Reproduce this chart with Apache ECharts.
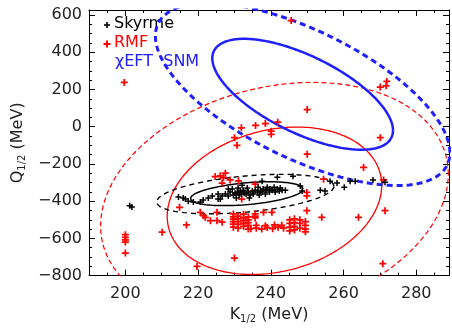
<!DOCTYPE html>
<html><head><meta charset="utf-8">
<script src="https://cdn.jsdelivr.net/npm/echarts@6/dist/echarts.min.js"></script>
<style>html,body{margin:0;padding:0;background:#fff}#c{width:452px;height:329px}</style>
</head><body><div id="c"></div>
<script>
const xTicks = [200, 220, 240, 260, 280];
const yTicks = [-800, -600, -400, -200, 0, 200, 400, 600];

const skyrme = [
[201.2,-425],[201.8,-432],
[214.6,-378],[215.9,-383],[216.5,-389],[217.3,-400],[218.7,-405],[220.6,-405],[221.4,-394],[222.8,-383],[223.9,-373],[225.5,-362],[225.5,-389],[226.1,-389],[226.6,-373],[227.5,-362],[228.3,-373],[228.3,-335],[228.8,-351],[229.4,-335],[229.7,-367],[230.2,-357],[230.5,-383],[230.8,-351],[231.0,-330],[231.3,-367],[231.6,-346],[231.9,-362],[232.1,-314],[232.4,-341],[232.7,-357],[233.2,-362],[233.5,-330],[233.8,-351],[234.1,-383],[234.3,-367],[234.9,-346],[235.2,-362],[235.7,-341],[236.3,-351],[236.5,-325],[236.8,-367],[237.1,-346],[237.6,-351],[237.6,-293],[237.9,-335],[238.5,-362],[238.7,-341],[239.0,-325],[239.6,-351],[239.8,-335],[240.4,-341],[240.9,-325],[241.2,-351],[241.8,-335],[241.8,-271],[242.3,-346],[242.6,-330],[243.1,-341],[244.0,-341],[246.1,-266],[248.1,-319],[248.6,-346],[253.6,-341],[254.9,-346],[256.3,-293],[258.2,-303],[260.2,-325],[261.8,-293],[263.2,-293],[268.1,-287],[271.4,-298]
];

const rmf = [
[199.7,238],[245.6,570],[270.1,213],[271.7,220],[271.9,243],[250,92],[241.9,24],[238.5,17],[235.8,7],[231.9,-6],[230,-59],[230.7,-100],[240.1,-24],[240.1,-41],[250,-148],[270.1,-59],
[200,-580],[200,-594],[200,-608],[200,-620],[200,-679],[210.1,-567],[214.9,-433],[216.8,-528],[219.7,-751],
[224.7,-268],[226.1,-264],[227.5,-250],[227,-273],[228.8,-286],[226.6,-303],[231.1,-291],[232,-389],
[235.7,-309],[254.5,-282],[265.5,-219],[271,-286],[249.9,-353],[249.9,-371],[249.9,-451],[254,-487],[264.1,-487],[271.4,-451],[270.8,-736],[230,-706],
[220.6,-460],[221.5,-478],[222,-487],[223.4,-505],[225.2,-505],[226.6,-513],[225.2,-460],[229.7,-469],
[229.7,-485],[229.7,-497],[229.7,-510],[229.7,-523],[229.7,-540],
[231,-480],[231,-495],[231,-510],[231,-525],[231,-545],
[232.5,-470],[232.5,-490],[232.5,-505],[232.5,-520],[232.5,-535],
[233.8,-485],[233.8,-500],[233.8,-515],[233.8,-530],[233.8,-550],
[235.7,-469],[235.7,-480],[235.7,-490],[238,-460],[240.3,-460],
[234.5,-548],[236,-545],[237.5,-550],[239,-542],[240.5,-548],[242,-540],[243.5,-545],[236,-530],[238.5,-532],[241,-528],[243,-530],
[245.2,-500],[245.2,-520],[245.2,-540],[245.2,-560],
[246.5,-495],[246.5,-515],[246.5,-535],[246.5,-555],
[248,-500],[248,-520],[248,-545],
[249.5,-510],[249.5,-530],[249.5,-550],[249.5,-565]
];

// ellipses: [centerX, centerY, halfWidthX, halfHeightY, correlation]
const blueSolid   = [248.75, 174, 24.85, 298, -0.65];
const blueDashed  = [248.75, 174, 40.5, 490, -0.64];
const redSolid    = [241, -398, 29.5, 396, 0.21];
const redDashed   = [241, -394, 47.8, 632, 0.22];
const blackSolid  = [233.4, -360, 15.5, 64, 0.4];
const blackDashed = [233, -362, 24.4, 106, 0.4];

function outline(p) {
  const [cx, cy, rx, ry, c] = p;
  const d = Math.acos(c);
  const pts = [];
  const n = 240;
  for (let i = 0; i <= n; i++) {
    const t = 2 * Math.PI * i / n;
    pts.push([cx + rx * Math.cos(t), cy + ry * Math.cos(t - d)]);
  }
  return pts;
}

const FONT = 'DejaVu Sans';
const TXT = '#222';
const plus = 'path://M3,0H5V3H8V5H5V8H3V5H0V3H3Z';

function xAx(pos, labels) {
  return {
    type: 'value', position: pos, min: 190, max: 289, splitNumber: 5,
    axisLine: { show: true, onZero: false, lineStyle: { color: '#000', width: 1 } },
    axisTick: { show: true, inside: true, length: 6, lineStyle: { color: '#000' } },
    minorTick: { show: true, splitNumber: 4, length: 3, lineStyle: { color: '#000' } },
    splitLine: { show: false }, minorSplitLine: { show: false },
    axisLabel: labels ? {
      show: true, fontSize: 16, fontFamily: FONT, color: TXT, margin: 10,
      formatter: v => xTicks.includes(v) ? String(v) : ''
    } : { show: false },
    name: labels ? 'K{s|1/2} (MeV)' : '',
    nameLocation: 'middle', nameGap: 28,
    nameTextStyle: { fontSize: 16, fontFamily: FONT, color: TXT,
      rich: { s: { fontSize: 10, fontFamily: FONT, color: TXT, padding: [9, 0, 0, 0] } } }
  };
}
function yAx(pos, labels) {
  return {
    type: 'value', position: pos, min: -800, max: 627, interval: 200,
    axisLine: { show: true, onZero: false, lineStyle: { color: '#000', width: 1 } },
    axisTick: { show: true, inside: true, length: 6, lineStyle: { color: '#000' } },
    minorTick: { show: true, splitNumber: 4, length: 3, lineStyle: { color: '#000' } },
    splitLine: { show: false }, minorSplitLine: { show: false },
    axisLabel: labels ? {
      show: true, fontSize: 16, fontFamily: FONT, color: TXT, margin: 7,
      formatter: v => yTicks.includes(v) ? String(v).replace('-', '\u2212') : ''
    } : { show: false },
    name: labels ? 'Q{s|1/2} (MeV)' : '',
    nameLocation: 'middle', nameGap: 62,
    nameTextStyle: { fontSize: 16, fontFamily: FONT, color: TXT,
      rich: { s: { fontSize: 10, fontFamily: FONT, color: TXT, padding: [9, 0, 0, 0] } } }
  };
}

function ell(p, color, width, dash, z) {
  return {
    type: 'line', data: outline(p), showSymbol: false, symbol: 'none', silent: true,
    clip: true, z: z, animation: false,
    lineStyle: { color: color, width: width, type: dash || 'solid' }
  };
}

const chart = echarts.init(document.getElementById('c'), null, { renderer: 'canvas' });
chart.setOption({
  animation: false,
  backgroundColor: '#fff',
  grid: { left: 89, right: 3, top: 10, bottom: 51, containLabel: false },
  xAxis: [xAx('bottom', true), xAx('top', false)],
  yAxis: [yAx('left', true), yAx('right', false)],
  graphic: [
    { type: 'rect', shape: { x: 104, y: 24.2, width: 6, height: 1.6 }, style: { fill: '#000' } },
    { type: 'rect', shape: { x: 106.2, y: 22, width: 1.6, height: 6 }, style: { fill: '#000' } },
    { type: 'text', x: 114, y: 24, style: { text: 'Skyrme', fontSize: 16, fontFamily: FONT, fill: '#000', verticalAlign: 'middle' } },
    { type: 'rect', shape: { x: 103.5, y: 43, width: 7, height: 2 }, style: { fill: '#ff0000' } },
    { type: 'rect', shape: { x: 106, y: 40.5, width: 2, height: 7 }, style: { fill: '#ff0000' } },
    { type: 'text', x: 114, y: 42.5, style: { text: 'RMF', fontSize: 16, fontFamily: FONT, fill: '#ff0000', verticalAlign: 'middle' } },
    { type: 'text', x: 115, y: 62, style: { text: '\u03c7EFT  SNM', fontSize: 16, fontFamily: FONT, fill: '#2020ff', verticalAlign: 'middle' } }
  ],
  series: [
    ell(redDashed, '#ff0000', 1.2, [5, 3], 2),
    ell(redSolid, '#ff0000', 1.3, 'solid', 2),
    ell(blackDashed, '#000', 1.4, [5, 4], 2),
    ell(blackSolid, '#000', 1.5, 'solid', 2),
    ell(blueDashed, '#2020ff', 3, [6, 4], 3),
    ell(blueSolid, '#2020ff', 2.5, 'solid', 3),
    { type: 'scatter', data: rmf, symbol: plus, symbolSize: 7, itemStyle: { color: '#ff0000', opacity: 1 }, z: 4, silent: true },
    { type: 'scatter', data: skyrme, symbol: plus, symbolSize: 6, itemStyle: { color: '#000', opacity: 1 }, z: 5, silent: true }
  ]
});
</script>
</body></html>
